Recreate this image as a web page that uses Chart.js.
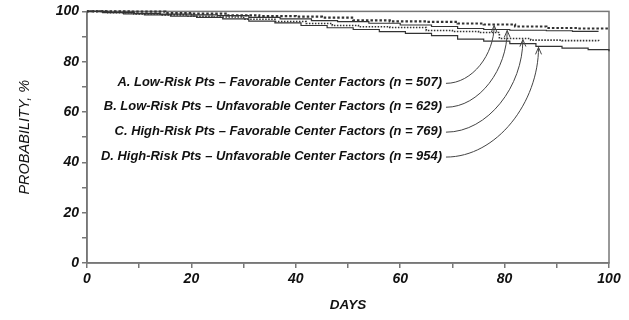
<!DOCTYPE html>
<html>
<head>
<meta charset="utf-8">
<script src="https://cdn.jsdelivr.net/npm/chart.js@4.4.0/dist/chart.umd.min.js"></script>
<style>
  html, body { margin: 0; padding: 0; background: #fff; }
  #wrap { width: 629px; height: 320px; position: relative; }
</style>
</head>
<body>
<div id="wrap"><canvas id="chart"></canvas></div>
<script>
// Kaplan-Meier style curves (day of step, probability %)
const daysA = [0, 8, 15, 20, 27, 33, 40, 45, 51, 58, 65, 71, 76, 82, 88, 94, 100];
const probA = [100, 99.9, 99.3, 99.1, 98.4, 98.1, 97.9, 97.5, 96.4, 96.0, 95.8, 95.2, 94.8, 94.0, 93.4, 93.2, 93.2];

const daysB = [0, 4, 9, 14, 20, 25, 31, 37, 43, 48, 54, 60, 66, 71, 76, 81, 88, 93, 98];
const probB = [100, 99.6, 99.2, 98.9, 98.6, 98.3, 97.6, 97.0, 96.3, 95.9, 95.3, 94.6, 94.0, 93.2, 92.8, 92.5, 92.3, 92.1, 92.1];

const daysC = [0, 4, 9, 14, 19, 24, 30, 36, 42, 47, 52, 58, 65, 70, 75, 79, 85, 91, 98];
const probC = [100, 99.5, 99.0, 98.6, 98.1, 97.8, 96.9, 96.0, 95.2, 94.4, 93.9, 93.6, 92.4, 92.0, 91.6, 89.2, 88.6, 88.4, 88.2];

const daysD = [0, 3, 7, 11, 16, 21, 26, 31, 36, 41, 46, 51, 56, 61, 66, 71, 76, 81, 86, 91, 96, 100];
const probD = [100, 99.5, 99.0, 98.6, 98.1, 97.6, 97.0, 96.1, 95.4, 94.4, 93.5, 92.8, 92.0, 91.3, 90.4, 89.0, 88.2, 87.2, 86.1, 85.4, 84.8, 84.2];

const seriesLabels = [
  'A. Low-Risk Pts \u2013 Favorable Center Factors (n = 507)',
  'B. Low-Risk Pts \u2013 Unfavorable Center Factors (n = 629)',
  'C. High-Risk Pts \u2013 Favorable Center Factors (n = 769)',
  'D. High-Risk Pts \u2013 Unfavorable Center Factors (n = 954)'
];
// day on each curve that the label's arrow points to
const arrowDays = [78, 80.5, 83.5, 86.5];
// label rows, in data units (right end day, probability level of each row)
const labelRightDay = 68;
const labelRowProbs = [71.8, 62.3, 52.4, 42.5];

const xTickLabels = [0, 20, 40, 60, 80, 100];
const yTickLabels = [0, 20, 40, 60, 80, 100];

const allDays = [daysA, daysB, daysC, daysD];
const allProbs = [probA, probB, probC, probD];

function toPoints(days, probs) {
  return days.map((d, i) => ({ x: d, y: probs[i] }));
}

function stepValue(days, probs, d) {
  let v = probs[0];
  for (let i = 0; i < days.length; i++) {
    if (days[i] <= d) v = probs[i];
  }
  return v;
}

const LINE = '#333';
const AXIS = '#777';

// box around the plot area
const frame = {
  id: 'frame',
  beforeDatasetsDraw(chart) {
    const { ctx, chartArea: a } = chart;
    ctx.save();
    ctx.strokeStyle = AXIS;
    ctx.lineWidth = 1.5;
    ctx.strokeRect(a.left, a.top, a.right - a.left, a.bottom - a.top);
    ctx.restore();
  }
};

// curve labels with arrows
const annotations = {
  id: 'annotations',
  afterDraw(chart) {
    const ctx = chart.ctx;
    const xs = chart.scales.x;
    const ys = chart.scales.y;
    ctx.save();
    ctx.font = 'italic bold 12.5px "Liberation Sans", Arial, sans-serif';
    ctx.fillStyle = '#111';
    ctx.textBaseline = 'middle';
    ctx.textAlign = 'right';
    const widest = Math.max(...seriesLabels.map(t => ctx.measureText(t).width));
    const squeeze = 341 / widest;
    const rightX = xs.getPixelForValue(labelRightDay);

    seriesLabels.forEach((text, i) => {
      const rowY = ys.getPixelForValue(labelRowProbs[i]);
      ctx.save();
      ctx.translate(rightX, rowY);
      ctx.scale(squeeze, 1);
      ctx.fillText(text, 0, 0);
      ctx.restore();

      const tipX = xs.getPixelForValue(arrowDays[i]);
      const tipY = ys.getPixelForValue(stepValue(allDays[i], allProbs[i], arrowDays[i])) + 1;
      const sx = rightX + 4;
      const sy = rowY + 1;
      const dx = tipX - sx;
      const dy = sy - tipY;
      ctx.strokeStyle = '#444';
      ctx.lineWidth = 1;
      ctx.beginPath();
      ctx.moveTo(sx, sy);
      ctx.bezierCurveTo(sx + dx * 0.55, sy, tipX, tipY + dy * 0.5, tipX, tipY);
      ctx.stroke();
      ctx.beginPath();
      ctx.moveTo(tipX - 3, tipY + 7);
      ctx.lineTo(tipX, tipY);
      ctx.lineTo(tipX + 3, tipY + 7);
      ctx.stroke();
    });
    ctx.restore();
  }
};

const tickFont = { family: '"Liberation Sans", Arial, sans-serif', size: 14, style: 'italic', weight: 'bold' };

new Chart(document.getElementById('chart'), {
  type: 'line',
  data: {
    datasets: [
      { data: toPoints(daysA, probA), borderColor: LINE, borderWidth: 2.2, borderDash: [2.5, 2], stepped: true, pointRadius: 0, clip: false },
      { data: toPoints(daysB, probB), borderColor: LINE, borderWidth: 1.2, stepped: true, pointRadius: 0, clip: false },
      { data: toPoints(daysC, probC), borderColor: LINE, borderWidth: 1.6, borderDash: [1.5, 1.5], stepped: true, pointRadius: 0, clip: false },
      { data: toPoints(daysD, probD), borderColor: LINE, borderWidth: 1.2, stepped: true, pointRadius: 0, clip: false }
    ]
  },
  options: {
    responsive: true,
    maintainAspectRatio: false,
    animation: false,
    layout: { padding: { left: 0, right: 20, top: 11, bottom: 0 } },
    plugins: { legend: { display: false }, tooltip: { enabled: false } },
    scales: {
      x: {
        type: 'linear',
        min: 0,
        max: 100,
        afterFit(scale) { scale.height = 57; },
        border: { color: AXIS, width: 1.5 },
        grid: { drawOnChartArea: false, drawTicks: true, tickLength: 5, color: AXIS, lineWidth: 1.5 },
        ticks: {
          stepSize: 10,
          padding: 3,
          color: '#111',
          font: tickFont,
          maxRotation: 0,
          autoSkip: false,
          callback: v => (xTickLabels.includes(v) ? String(v) : '')
        },
        title: {
          display: true,
          text: 'DAYS',
          color: '#111',
          font: { family: '"Liberation Sans", Arial, sans-serif', size: 13.5, style: 'italic', weight: 'bold' },
          padding: { top: 0, bottom: 7 }
        }
      },
      y: {
        min: 0,
        max: 100,
        afterFit(scale) { scale.width = 87; },
        border: { color: AXIS, width: 1.5 },
        grid: { drawOnChartArea: false, drawTicks: true, tickLength: 5, color: AXIS, lineWidth: 1.5 },
        ticks: {
          stepSize: 10,
          padding: 3,
          color: '#111',
          font: tickFont,
          autoSkip: false,
          callback: v => (yTickLabels.includes(v) ? String(v) : '')
        },
        title: {
          display: true,
          text: 'PROBABILITY, %',
          color: '#111',
          font: { family: '"Liberation Sans", Arial, sans-serif', size: 14.5, style: 'italic', weight: 'normal' },
          padding: { top: 16, bottom: 0 }
        }
      }
    }
  },
  plugins: [frame, annotations]
});
</script>
</body>
</html>
